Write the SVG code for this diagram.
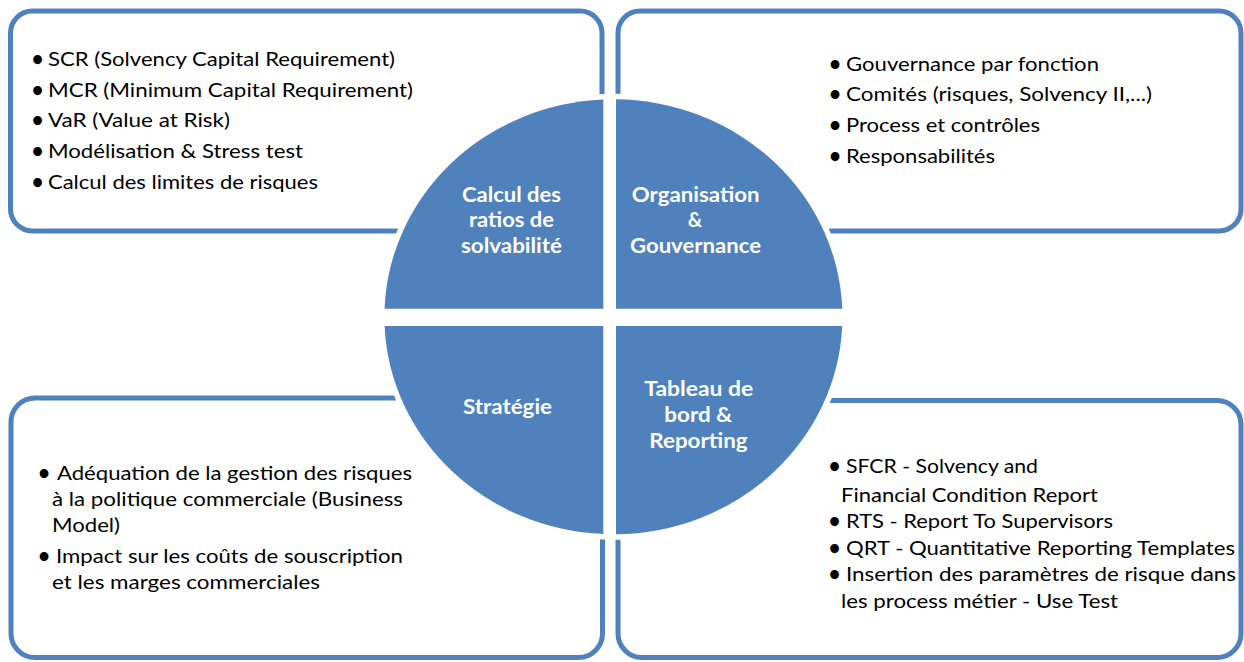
<svg xmlns="http://www.w3.org/2000/svg" width="1244" height="662" viewBox="0 0 1244 662">
<style>
.box{fill:#fff;stroke:#4F81BD;stroke-width:5}
.q{fill:#4F81BD;stroke:#fff;stroke-width:11;paint-order:stroke;stroke-linejoin:round}
.t{font-family:Lato,"Liberation Sans",sans-serif;font-size:20px;fill:#000}
.b{font-family:Lato,"Liberation Sans",sans-serif;font-size:20px;font-weight:bold;fill:#000;text-anchor:middle}
.l{font-family:Lato,"Liberation Sans",sans-serif;font-weight:bold;font-size:20px;fill:#fff;text-anchor:middle}
</style>
<rect x="0" y="0" width="1244" height="662" fill="#fff"/>
<g id="box-calcul">
<rect class="box" x="10.5" y="11" width="591.5" height="220" rx="22"/>
<text class="b" x="37.5" y="66">•</text><text class="t" x="48" y="66" textLength="347" lengthAdjust="spacingAndGlyphs">SCR (Solvency Capital Requirement)</text>
<text class="b" x="37.5" y="96.7">•</text><text class="t" x="48" y="96.7" textLength="365" lengthAdjust="spacingAndGlyphs">MCR (Minimum Capital Requirement)</text>
<text class="b" x="37.5" y="127.4">•</text><text class="t" x="48" y="127.4" textLength="182" lengthAdjust="spacingAndGlyphs">VaR (Value at Risk)</text>
<text class="b" x="37.5" y="158.1">•</text><text class="t" x="48" y="158.1" textLength="255" lengthAdjust="spacingAndGlyphs">Modélisation &amp; Stress test</text>
<text class="b" x="37.5" y="188.8">•</text><text class="t" x="48" y="188.8" textLength="270" lengthAdjust="spacingAndGlyphs">Calcul des limites de risques</text>
</g>
<g id="box-organisation">
<rect class="box" x="618" y="11" width="623" height="220" rx="22"/>
<text class="b" x="835" y="70.5">•</text><text class="t" x="846" y="70.5" textLength="253" lengthAdjust="spacingAndGlyphs">Gouvernance par fonction</text>
<text class="b" x="835" y="101.3">•</text><text class="t" x="846" y="101.3" textLength="306" lengthAdjust="spacingAndGlyphs">Comités (risques, Solvency II,...)</text>
<text class="b" x="835" y="132">•</text><text class="t" x="846" y="132" textLength="194" lengthAdjust="spacingAndGlyphs">Process et contrôles</text>
<text class="b" x="835" y="163">•</text><text class="t" x="846" y="163" textLength="149" lengthAdjust="spacingAndGlyphs">Responsabilités</text>
</g>
<g id="box-strategie">
<rect class="box" x="11" y="398" width="591.5" height="259.5" rx="24"/>
<text class="b" x="44" y="479.5">•</text><text class="t" x="57" y="479.5" textLength="355" lengthAdjust="spacingAndGlyphs">Adéquation de la gestion des risques</text>
<text class="t" x="52" y="505.5" textLength="351" lengthAdjust="spacingAndGlyphs">à la politique commerciale (Business</text>
<text class="t" x="52" y="531.5" textLength="68" lengthAdjust="spacingAndGlyphs">Model)</text>
<text class="b" x="44" y="563">•</text><text class="t" x="56" y="563" textLength="347" lengthAdjust="spacingAndGlyphs">Impact sur les coûts de souscription</text>
<text class="t" x="52" y="589" textLength="268" lengthAdjust="spacingAndGlyphs">et les marges commerciales</text>
</g>
<g id="box-reporting">
<rect class="box" x="618" y="400.5" width="623" height="257" rx="24"/>
<text class="b" x="834.5" y="472.5">•</text><text class="t" x="846" y="472.5" textLength="192" lengthAdjust="spacingAndGlyphs">SFCR - Solvency and</text>
<text class="t" x="841" y="501.5" textLength="257" lengthAdjust="spacingAndGlyphs">Financial Condition Report</text>
<text class="b" x="834.5" y="528">•</text><text class="t" x="846" y="528" textLength="267" lengthAdjust="spacingAndGlyphs">RTS - Report To Supervisors</text>
<text class="b" x="834.5" y="554.5">•</text><text class="t" x="846" y="554.5" textLength="389" lengthAdjust="spacingAndGlyphs">QRT - Quantitative Reporting Templates</text>
<text class="b" x="834.5" y="580.5">•</text><text class="t" x="846" y="580.5" textLength="390" lengthAdjust="spacingAndGlyphs">Insertion des paramètres de risque dans</text>
<text class="t" x="841" y="607.5" textLength="277" lengthAdjust="spacingAndGlyphs">les process métier - Use Test</text>
</g>
<g id="quad-calcul">
<path class="q" d="M603.3,308.7 L384.56,308.7 A229,217.5 0 0 1 603.3,99.51 Z"/>
<text class="l" x="511.5" y="201.5" textLength="99" lengthAdjust="spacingAndGlyphs">Calcul des</text>
<text class="l" x="511.5" y="227.3" textLength="85" lengthAdjust="spacingAndGlyphs">ratios de</text>
<text class="l" x="511.5" y="253.3" textLength="101" lengthAdjust="spacingAndGlyphs">solvabilité</text>
</g>
<g id="quad-organisation">
<path class="q" d="M616,308.7 L616,99.31 A229,217.5 0 0 1 842.24,308.7 Z"/>
<text class="l" x="695.7" y="201.5" textLength="127.7" lengthAdjust="spacingAndGlyphs">Organisation</text>
<text class="l" x="695" y="227.3">&amp;</text>
<text class="l" x="695.5" y="253.3" textLength="131" lengthAdjust="spacingAndGlyphs">Gouvernance</text>
</g>
<g id="quad-strategie">
<path class="q" d="M603.3,326 L603.3,534.09 A229,217.5 0 0 1 384.6,326 Z"/>
<text class="l" x="507.5" y="413.5" textLength="89" lengthAdjust="spacingAndGlyphs">Stratégie</text>
</g>
<g id="quad-reporting">
<path class="q" d="M616,326 L842.2,326 A229,217.5 0 0 1 616,534.29 Z"/>
<text class="l" x="698.7" y="395.5" textLength="109" lengthAdjust="spacingAndGlyphs">Tableau de</text>
<text class="l" x="698.3" y="421.7" textLength="68" lengthAdjust="spacingAndGlyphs">bord &amp;</text>
<text class="l" x="698.5" y="447.5" textLength="98.4" lengthAdjust="spacingAndGlyphs">Reporting</text>
</g>
<g id="connectors"/>
</svg>
